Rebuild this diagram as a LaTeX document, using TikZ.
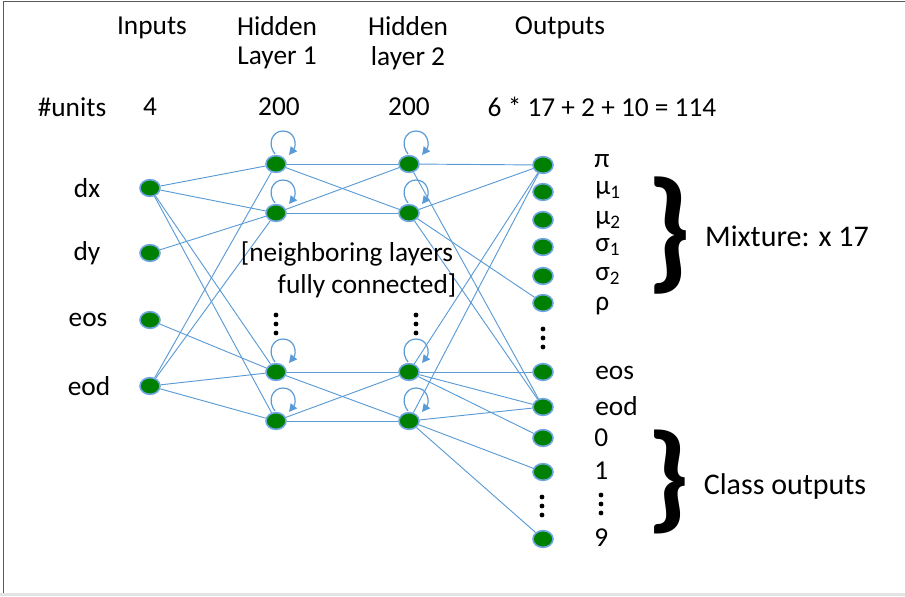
\documentclass[tikz,border=0pt]{standalone}
\usepackage{fontspec}
\setmainfont{Carlito}
\usetikzlibrary{shapes.geometric,arrows.meta,backgrounds,calc}
\definecolor{edgeblue}{RGB}{91,155,213}
\definecolor{nodegreen}{RGB}{0,128,0}
\definecolor{rimblue}{RGB}{110,165,222}
\definecolor{framegray}{RGB}{90,90,90}
\definecolor{bandgray}{RGB}{228,228,228}
\begin{document}
\begin{tikzpicture}[x=0.75pt,y=-0.75pt,
  unit/.style={ellipse, fill=nodegreen, draw=rimblue, line width=1.2pt, minimum width=15pt, minimum height=12.5pt, inner sep=0pt},
  conn/.style={draw=edgeblue, line width=0.7pt},
  selfloop/.style={draw=edgeblue, line width=0.9pt, -{Triangle[length=6pt,width=6pt]}},
  lbl/.style={font=\fontsize{20.5}{24}\selectfont, inner sep=0pt},
  biglbl/.style={font=\fontsize{22.5}{26}\selectfont, inner sep=0pt},
  bracebox/.style={inner sep=0pt}
]
\useasboundingbox (0,0) rectangle (905,596);
% frame
\fill[bandgray] (0,593) rectangle (905,596);
\draw[framegray, line width=1.1pt] (3.5,593) -- (3.5,1.5) -- (905,1.5);

% headers
\node[lbl] (hin) at (152,28) {Inputs};
\node[lbl] (hh1a) at (277,26) {Hidden};
\node[lbl] (hh1b) at (277,58) {Layer 1};
\node[lbl] (hh2a) at (408,26) {Hidden};
\node[lbl] (hh2b) at (408,58) {layer 2};
\node[lbl] (hout) at (560,28) {Outputs};
\node[lbl] (uu) at (72,107) {\#units};
\node[lbl] (u1) at (150,107) {4};
\node[lbl] (u2) at (279,107) {200};
\node[lbl] (u3) at (409,107) {200};
\node[lbl] (u4) at (602,107) {6 * 17 + 2 + 10 = 114};

% input nodes
\node[unit] (dx) at (150,188) {};
\node[unit] (dy) at (150,253) {};
\node[unit] (ieos) at (150,320) {};
\node[unit] (ieod) at (150,386) {};
\node[lbl] (ldx) at (87,188) {dx};
\node[lbl] (ldy) at (87,253) {dy};
\node[lbl] (leos) at (88,320) {eos};
\node[lbl] (leod) at (89,386) {eod};

% hidden layers
\node[unit] (h1a) at (276,164) {};
\node[unit] (h1b) at (276,213) {};
\node[unit] (h1c) at (276,372) {};
\node[unit] (h1d) at (276,421) {};
\node[unit] (h2a) at (409,164) {};
\node[unit] (h2b) at (409,213) {};
\node[unit] (h2c) at (409,372) {};
\node[unit] (h2d) at (409,421) {};

% output nodes
\node[unit] (opi) at (543,165) {};
\node[unit] (omua) at (543,192) {};
\node[unit] (omub) at (543,220) {};
\node[unit] (osiga) at (543,247) {};
\node[unit] (osigb) at (543,276) {};
\node[unit] (orho) at (543,303) {};
\node[unit] (oeos) at (543,372) {};
\node[unit] (oeod) at (543,407) {};
\node[unit] (ozero) at (543,438) {};
\node[unit] (oone) at (543,472) {};
\node[unit] (onine) at (543,539) {};

% output labels
\node[lbl, anchor=west] (lpi) at (594,161) {π};
\node[lbl, anchor=west] (lmua) at (595,190) {μ\textsubscript{1}};
\node[lbl, anchor=west] (lmub) at (595,220) {μ\textsubscript{2}};
\node[lbl, anchor=west] (lsiga) at (595,247) {σ\textsubscript{1}};
\node[lbl, anchor=west] (lsigb) at (595,276) {σ\textsubscript{2}};
\node[lbl, anchor=west] (lrho) at (595,306) {ρ};
\node[lbl, anchor=west] (loeos) at (595,373) {eos};
\node[lbl, anchor=west] (loeod) at (595,406) {eod};
\node[lbl, anchor=west] (lzero) at (594,438) {0};
\node[lbl, anchor=west] (lone) at (594,471) {1};
\node[lbl, anchor=west] (lnine) at (594,538) {9};

% middle text
\node[lbl] (nb1) at (347,254) {[neighboring layers};
\node[lbl] (nb2) at (367,286) {fully connected]};

% vertical dots
\foreach \x/\ya in {276/315, 416/315, 543/329, 542/497, 601/495}
  \foreach \k in {0,1,2}
    \fill ($(\x,\ya)+(0,9*\k)$) circle[radius=1.8pt];

% braces and their labels
\node[bracebox] (br1) at (669,236) {\resizebox*{34pt}{88pt}{\bfseries\}}};
\node[bracebox] (br2) at (668,482) {\resizebox*{33pt}{78pt}{\bfseries\}}};
\node[biglbl] (mix) at (787,236) {Mixture: x 17};
\node[biglbl] (cls) at (785,486) {Class outputs};

% connections
\begin{scope}[on background layer]
\foreach \a/\b in {dx/h1a, dx/h1b, dx/h1c, dx/h1d, dy/h1b, ieos/h1c,
  ieod/h1a, ieod/h1b, ieod/h1c, ieod/h1d,
  h1a/h2a, h1a/h2b, h1b/h2a, h1b/h2b, h1c/h2c, h1c/h2d, h1d/h2c, h1d/h2d,
  h2a/opi, h2a/oeod, h2b/opi, h2b/orho, h2b/oeod,
  h2c/opi, h2c/oeos, h2c/oeod, h2c/ozero,
  h2d/opi, h2d/oeod, h2d/oone, h2d/onine}
  \draw[conn] (\a) -- (\b);
\end{scope}

% self loops
\foreach \n in {h1a,h1b,h1c,h1d,h2a,h2b,h2c,h2d}
  \draw[selfloop] ($(\n)+(-1,-10)$) .. controls ($(\n)+(-9,-20)$) and ($(\n)+(-4,-33)$) .. ($(\n)+(7,-33)$) .. controls ($(\n)+(19,-33)$) and ($(\n)+(21,-19)$) .. ($(\n)+(13,-9)$);
\end{tikzpicture}
\end{document}
